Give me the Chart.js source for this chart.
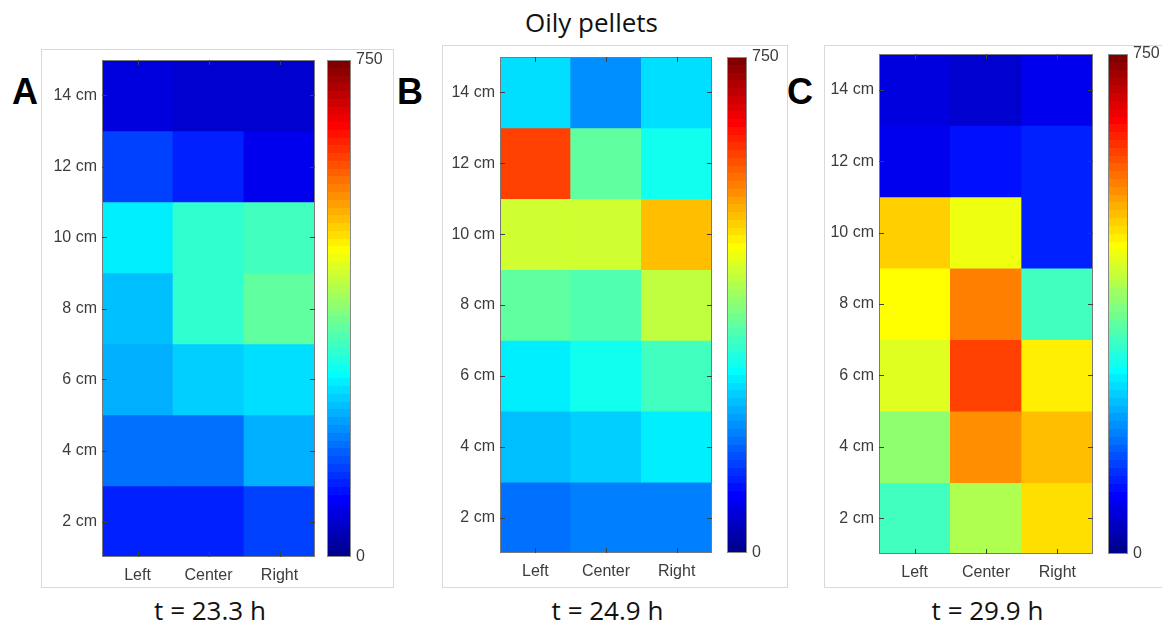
<!DOCTYPE html>
<html>
<head>
<meta charset="utf-8">
<script src="https://cdn.jsdelivr.net/npm/chart.js@4.4.1/dist/chart.umd.min.js"></script>
<style>
  html, body { margin: 0; padding: 0; background: #fff; }
  body { width: 1162px; height: 625px; overflow: hidden; position: relative; }
  .frame { position: absolute; border: 1px solid #d9d9d9; box-sizing: border-box; }
  .letter { position: absolute; font: bold 36px "Liberation Sans", Arial, sans-serif; line-height: 1; color: #000; }
  .caption { position: absolute; font: 26px "Open Sans", sans-serif; line-height: 1; color: #111; white-space: nowrap; transform: translateX(-50%); }
  canvas { position: absolute; }
</style>
</head>
<body>
<script>
// Colour range of the jet map
const vmin = 0;
const vmax = 750;

// Categories and ticks
const columns = ['Left', 'Center', 'Right'];
const depthsCm = [14, 12, 10, 8, 6, 4, 2];      // row centres, top to bottom
const depthTicks = [2, 4, 6, 8, 10, 12, 14];
const colorbarTicks = [0, 750];

// Cell values per panel, rows follow depthsCm, columns follow `columns`
const panelA = [
  [65, 58, 47],
  [135, 110, 73],
  [262, 312, 323],
  [227, 311, 341],
  [213, 238, 249],
  [165, 172, 213],
  [106, 106, 132]
];
const panelB = [
  [249, 191, 249],
  [606, 341, 283],
  [422, 424, 504],
  [341, 334, 419],
  [264, 290, 319],
  [231, 245, 264],
  [172, 183, 183]
];
const panelC = [
  [69, 54, 80],
  [77, 95, 109],
  [500, 455, 109],
  [466, 551, 326],
  [437, 606, 470],
  [378, 540, 504],
  [319, 406, 489]
];

const panelLetters = ['A', 'B', 'C'];
const panelTimes = ['t = 23.3 h', 't = 24.9 h', 't = 29.9 h'];
const chartTitle = 'Oily pellets';

// Page geometry of each panel (frame box, plot box, colour bar, letter, caption)
const geometry = [
  { frame: { x: 41, y: 49, w: 353, h: 539 }, plot: { l: 102, t: 60, r: 315, b: 557 }, bar: { l: 327, r: 351 }, letterX: 12, captionX: 210 },
  { frame: { x: 442, y: 45, w: 346, h: 543 }, plot: { l: 500, t: 57, r: 712, b: 553 }, bar: { l: 727, r: 747 }, letterX: 397, captionX: 607.5 },
  { frame: { x: 824, y: 45, w: 345, h: 543 }, plot: { l: 879, t: 54, r: 1093, b: 554 }, bar: { l: 1108, r: 1128 }, letterX: 787, captionX: 987.5 }
];

const tickFont = { family: '"Liberation Sans", Arial, sans-serif', size: 16 };
const tickColor = '#3c3c3c';

// MATLAB-style jet colormap with 64 levels
function jetRGB(x) {
  const c = v => Math.round(255 * Math.min(1, Math.max(0, v)));
  return [c(1.5 - Math.abs(4 * x - 3)), c(1.5 - Math.abs(4 * x - 2)), c(1.5 - Math.abs(4 * x - 1))];
}
function jetLevel(i) { return jetRGB((i + 1) / 64); }
function jetColor(v) {
  const t = (v - vmin) / (vmax - vmin);
  const i = Math.min(63, Math.max(0, Math.floor(t * 64)));
  const [r, g, b] = jetLevel(i);
  return `rgb(${r},${g},${b})`;
}

// Box outline plus inward tick marks, drawn over the cells
const axesBoxPlugin = {
  id: 'axesBox',
  afterDatasetsDraw(chart, args, opts) {
    const { ctx, chartArea: a } = chart;
    ctx.save();
    ctx.strokeStyle = opts.color || '#7a7a7a';
    ctx.lineWidth = 1;
    ctx.strokeRect(a.left + 0.5, a.top + 0.5, a.right - a.left - 1, a.bottom - a.top - 1);
    if (opts.ticks) {
      const len = 5;
      ctx.strokeStyle = '#404040';
      ctx.beginPath();
      const xs = chart.scales.x;
      xs.ticks.forEach((t, i) => {
        const px = Math.round(xs.getPixelForTick(i)) + 0.5;
        ctx.moveTo(px, a.top); ctx.lineTo(px, a.top + len);
        ctx.moveTo(px, a.bottom); ctx.lineTo(px, a.bottom - len);
      });
      const ys = chart.scales.y;
      ys.ticks.forEach(t => {
        const py = Math.round(ys.getPixelForValue(t.value)) + 0.5;
        ctx.moveTo(a.left, py); ctx.lineTo(a.left + len, py);
        ctx.moveTo(a.right, py); ctx.lineTo(a.right - len, py);
      });
      ctx.stroke();
    }
    ctx.restore();
  }
};

function addEl(cls, text, style) {
  const d = document.createElement('div');
  d.className = cls;
  d.textContent = text;
  Object.assign(d.style, style);
  document.body.appendChild(d);
  return d;
}
function addCanvas(x, y, w, h) {
  const c = document.createElement('canvas');
  c.width = w; c.height = h;
  c.style.left = x + 'px'; c.style.top = y + 'px';
  c.style.width = w + 'px'; c.style.height = h + 'px';
  document.body.appendChild(c);
  return c;
}

// Fix a scale's outer size and drop the label overhang padding
function fixSize(prop, size) {
  return function (s) {
    s[prop] = size;
    s.paddingTop = 0; s.paddingBottom = 0; s.paddingLeft = 0; s.paddingRight = 0;
  };
}

function heatmap(values, g) {
  const cx = g.frame.x + 1, cy = g.frame.y + 1;
  const cw = g.plot.r + 4 - cx;
  const ch = g.frame.y + g.frame.h - 1 - cy;
  const yWidth = g.plot.l - cx;
  const xHeight = cy + ch - g.plot.b;
  const canvas = addCanvas(cx, cy, cw, ch);

  const datasets = depthsCm.map((depth, r) => ({
    data: columns.map(() => [depth - 1, depth + 1]),
    backgroundColor: values[r].map(jetColor),
    borderWidth: 0,
    grouped: false,
    barPercentage: 1,
    categoryPercentage: 1
  }));

  new Chart(canvas, {
    type: 'bar',
    data: { labels: columns, datasets },
    options: {
      responsive: false,
      animation: false,
      events: [],
      layout: { padding: { top: g.plot.t - cy, right: cw - (g.plot.r - cx), left: 0, bottom: 0 } },
      plugins: { legend: { display: false }, tooltip: { enabled: false }, axesBox: { ticks: true } },
      scales: {
        x: {
          type: 'category',
          offset: true,
          grid: { display: false, drawTicks: false },
          border: { display: false },
          ticks: { font: tickFont, color: tickColor, padding: 9, maxRotation: 0 },
          afterFit: fixSize('height', xHeight)
        },
        y: {
          type: 'linear',
          min: 1, max: 15,
          grid: { display: false, drawTicks: false },
          border: { display: false },
          ticks: { font: tickFont, color: tickColor, padding: 5, callback: v => v + ' cm' },
          afterBuildTicks(s) { s.ticks = depthTicks.map(v => ({ value: v })); },
          afterFit: fixSize('width', yWidth)
        }
      }
    },
    plugins: [axesBoxPlugin]
  });
}

function colorbar(g) {
  const cy = g.frame.y + 1;
  const bx = g.plot.r + 6;
  const bw = Math.min(g.frame.x + g.frame.w - 1, 1162) - bx;
  const ch = g.frame.y + g.frame.h - 1 - cy;
  const canvas = addCanvas(bx, cy, bw, ch);
  const rightWidth = bx + bw - g.bar.r;

  const bandFill = (ctx) => {
    const area = ctx.chart.chartArea;
    if (!area) return '#000';
    const grad = ctx.chart.ctx.createLinearGradient(0, area.bottom, 0, area.top);
    for (let i = 0; i < 64; i++) {
      const [r, gg, b] = jetLevel(i);
      const col = `rgb(${r},${gg},${b})`;
      grad.addColorStop(i / 64, col);
      grad.addColorStop(Math.min(1, (i + 1) / 64 - 1e-6), col);
    }
    return grad;
  };

  new Chart(canvas, {
    type: 'bar',
    data: {
      labels: [''],
      datasets: [{ data: [[vmin, vmax]], backgroundColor: bandFill, borderWidth: 0, barPercentage: 1, categoryPercentage: 1 }]
    },
    options: {
      responsive: false,
      animation: false,
      events: [],
      layout: { padding: { top: g.plot.t - cy, bottom: cy + ch - g.plot.b, left: g.bar.l - bx, right: 0 } },
      plugins: { legend: { display: false }, tooltip: { enabled: false }, axesBox: { ticks: false, color: '#8a8a8a' } },
      scales: {
        x: { display: false, offset: true },
        y: {
          position: 'right',
          min: vmin, max: vmax,
          grid: { display: false, drawTicks: false },
          border: { display: false },
          ticks: { font: tickFont, color: tickColor, padding: 5 },
          afterBuildTicks(s) { s.ticks = colorbarTicks.map(v => ({ value: v })); },
          afterFit: fixSize('width', rightWidth)
        }
      }
    },
    plugins: [axesBoxPlugin]
  });
}

const panels = [panelA, panelB, panelC];
panels.forEach((values, k) => {
  const g = geometry[k];
  const f = document.createElement('div');
  f.className = 'frame';
  Object.assign(f.style, { left: g.frame.x + 'px', top: g.frame.y + 'px', width: g.frame.w + 'px', height: g.frame.h + 'px' });
  document.body.appendChild(f);
  heatmap(values, g);
  colorbar(g);
  addEl('letter', panelLetters[k], { left: g.letterX + 'px', top: '74px' });
  addEl('caption', panelTimes[k], { left: g.captionX + 'px', top: '597px' });
});
addEl('caption', chartTitle, { left: '591.5px', top: '9px' });
</script>
</body>
</html>
